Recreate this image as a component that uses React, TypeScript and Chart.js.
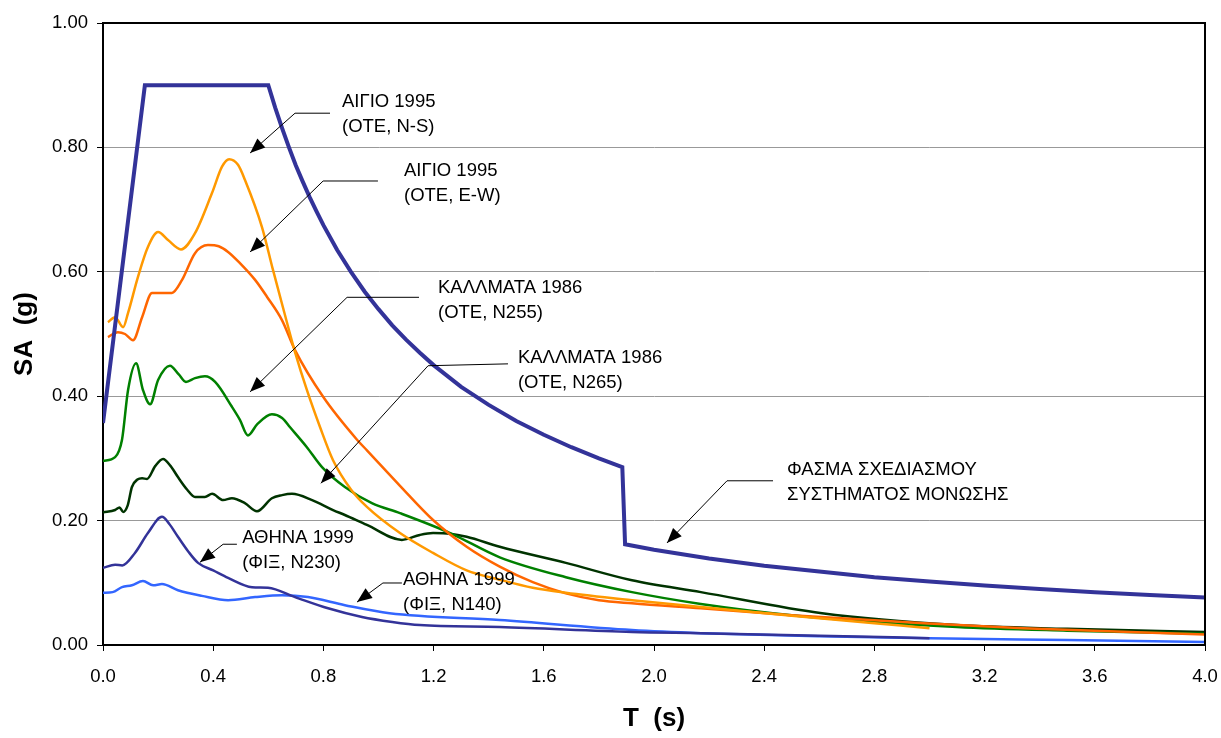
import React, { useEffect, useRef } from "react";
import { Chart, registerables } from "chart.js";

Chart.register(...registerables);

const FONT = "'Liberation Sans', Arial, Helvetica, sans-serif";

// ---- Data (T in s, SA in g) ----
const designPoints: number[][] = [
  [0, 0.357], [0.152, 0.9], [0.6, 0.9], [0.625, 0.864], [0.65, 0.831], [0.675, 0.8], [0.7, 0.771],
  [0.725, 0.745], [0.75, 0.72], [0.775, 0.697], [0.8, 0.675], [0.85, 0.635], [0.9, 0.6],
  [0.95, 0.568], [1.0, 0.54], [1.05, 0.514], [1.1, 0.491], [1.15, 0.47], [1.2, 0.45],
  [1.3, 0.415], [1.4, 0.386], [1.5, 0.36], [1.6, 0.338], [1.7, 0.318], [1.8, 0.3],
  [1.885, 0.286], [1.895, 0.162], [2.0, 0.153], [2.2, 0.139], [2.4, 0.1275], [2.6, 0.118],
  [2.8, 0.109], [3.0, 0.102], [3.2, 0.0956], [3.4, 0.09], [3.6, 0.085], [3.8, 0.0805], [4.0, 0.0765],
];

const aigioNSPoints: number[][] = [
  [0.018, 0.519], [0.044, 0.527], [0.073, 0.511], [0.091, 0.534], [0.127, 0.592], [0.163, 0.64],
  [0.2, 0.664], [0.236, 0.651], [0.283, 0.636], [0.334, 0.662], [0.396, 0.727], [0.432, 0.769],
  [0.458, 0.781], [0.49, 0.772], [0.515, 0.748], [0.577, 0.672], [0.617, 0.603], [0.653, 0.543],
  [0.697, 0.471], [0.74, 0.41], [0.788, 0.35], [0.835, 0.297], [0.9, 0.25], [0.958, 0.222],
  [1.078, 0.18], [1.198, 0.148], [1.32, 0.12], [1.44, 0.105], [1.56, 0.092], [1.68, 0.084],
  [1.92, 0.072], [2.17, 0.061], [2.5, 0.047], [2.8, 0.035], [3.0, 0.027],
];

const aigioEWPoints: number[][] = [
  [0.018, 0.495], [0.054, 0.503], [0.08, 0.5], [0.109, 0.49], [0.142, 0.527], [0.178, 0.566],
  [0.25, 0.566], [0.287, 0.587], [0.334, 0.63], [0.381, 0.643], [0.42, 0.641], [0.454, 0.632],
  [0.497, 0.614], [0.552, 0.587], [0.595, 0.56], [0.65, 0.522], [0.697, 0.474], [0.799, 0.399],
  [0.922, 0.33], [0.958, 0.313], [1.078, 0.256], [1.198, 0.201], [1.32, 0.158], [1.44, 0.126],
  [1.56, 0.101], [1.68, 0.083], [1.8, 0.072], [1.92, 0.067], [2.17, 0.059], [2.5, 0.048],
  [2.98, 0.035], [3.34, 0.027], [4.0, 0.017],
];

const kalamataN255Points: number[][] = [
  [0, 0.296], [0.044, 0.302], [0.069, 0.33], [0.091, 0.41], [0.12, 0.453], [0.145, 0.41],
  [0.171, 0.387], [0.2, 0.426], [0.243, 0.449], [0.275, 0.435], [0.301, 0.423], [0.334, 0.429],
  [0.37, 0.432], [0.407, 0.423], [0.468, 0.383], [0.497, 0.362], [0.526, 0.337], [0.56, 0.355],
  [0.613, 0.371], [0.65, 0.365], [0.679, 0.35], [0.74, 0.318], [0.795, 0.286], [0.878, 0.254],
  [0.976, 0.228], [1.078, 0.212], [1.26, 0.18], [1.44, 0.141], [1.68, 0.109], [1.92, 0.085],
  [2.17, 0.066], [2.5, 0.048], [3.1, 0.029], [3.5, 0.023], [4.0, 0.018],
];

const kalamataN265Points: number[][] = [
  [0, 0.213], [0.044, 0.217], [0.06, 0.221], [0.073, 0.214], [0.09, 0.225], [0.105, 0.254],
  [0.125, 0.266], [0.142, 0.268], [0.16, 0.267], [0.19, 0.288], [0.218, 0.299], [0.245, 0.288],
  [0.272, 0.27], [0.305, 0.25], [0.334, 0.238], [0.37, 0.238], [0.396, 0.243], [0.436, 0.233],
  [0.468, 0.236], [0.515, 0.228], [0.559, 0.215], [0.613, 0.236], [0.65, 0.241], [0.686, 0.243],
  [0.759, 0.233], [0.835, 0.217], [0.878, 0.209], [0.958, 0.193], [1.085, 0.169], [1.15, 0.177],
  [1.198, 0.18], [1.26, 0.179], [1.32, 0.174], [1.44, 0.158], [1.68, 0.132], [1.92, 0.104],
  [2.17, 0.085], [2.61, 0.051], [3.1, 0.032], [3.5, 0.026], [4.0, 0.021],
];

const athensN230Points: number[][] = [
  [0, 0.124], [0.044, 0.129], [0.07, 0.128], [0.116, 0.148], [0.163, 0.18], [0.214, 0.206],
  [0.24, 0.195], [0.272, 0.174], [0.31, 0.15], [0.345, 0.132], [0.4, 0.12], [0.454, 0.108],
  [0.541, 0.093], [0.599, 0.092], [0.697, 0.077], [0.817, 0.059], [0.94, 0.045], [1.05, 0.037],
  [1.15, 0.032], [1.44, 0.029], [1.92, 0.021], [2.17, 0.019], [2.6, 0.015], [3.0, 0.011],
];

const athensN140Points: number[][] = [
  [0, 0.084], [0.035, 0.085], [0.069, 0.093], [0.105, 0.096], [0.145, 0.103], [0.182, 0.096],
  [0.214, 0.098], [0.272, 0.088], [0.359, 0.079], [0.454, 0.072], [0.552, 0.077], [0.65, 0.08],
  [0.744, 0.077], [0.878, 0.064], [1.04, 0.051], [1.44, 0.04], [1.92, 0.024], [2.17, 0.019],
  [2.6, 0.014], [3.0, 0.011], [3.5, 0.008], [4.0, 0.005],
];

// Annotation labels: text lines, anchor (T, SA) of the first line, leader polyline ending at arrow tip
const annotations = [
  { lines: ["ΑΙΓΙΟ 1995", "(ΟΤΕ, N-S)"], at: [0.8675, 0.873], leader: [[0.824, 0.855], [0.697, 0.855], [0.534, 0.791]] },
  { lines: ["ΑΙΓΙΟ 1995", "(ΟΤΕ, E-W)"], at: [1.0926, 0.762], leader: [[0.998, 0.746], [0.799, 0.746], [0.534, 0.632]] },
  { lines: ["ΚΑΛΛΜΑΤΑ 1986", "(ΟΤΕ, N255)"], at: [1.216, 0.574], leader: [[1.147, 0.559], [0.886, 0.559], [0.534, 0.407]] },
  { lines: ["ΚΑΛΛΜΑΤΑ 1986", "(ΟΤΕ, N265)"], at: [1.506, 0.461], leader: [[1.47, 0.452], [1.18, 0.449], [0.791, 0.26]] },
  { lines: ["ΑΘΗΝΑ 1999", "(ΦΙΞ, N230)"], at: [0.505, 0.172], leader: [[0.486, 0.162], [0.436, 0.162], [0.352, 0.133]] },
  { lines: ["ΑΘΗΝΑ 1999", "(ΦΙΞ, N140)"], at: [1.089, 0.105], leader: [[1.085, 0.0997], [1.016, 0.0997], [0.922, 0.069]] },
  { lines: ["ΦΑΣΜΑ ΣΧΕΔΙΑΣΜΟΥ", "ΣΥΣΤΗΜΑΤΟΣ ΜΟΝΩΣΗΣ"], at: [2.483, 0.281], leader: [[2.432, 0.264], [2.265, 0.264], [2.047, 0.164]] },
];

const toXY = (pts: number[][]) => pts.map(([x, y]) => ({ x, y }));

const annotationPlugin = {
  id: "annotations",
  afterDatasetsDraw(chart: any) {
    const { ctx, scales } = chart;
    const xs = scales.x;
    const ys = scales.y;
    ctx.save();
    ctx.strokeStyle = "#000";
    ctx.fillStyle = "#000";
    ctx.lineWidth = 1;
    for (const a of annotations) {
      const pts = a.leader.map(([t, s]) => [xs.getPixelForValue(t), ys.getPixelForValue(s)]);
      ctx.beginPath();
      ctx.moveTo(pts[0][0], pts[0][1]);
      for (let i = 1; i < pts.length; i++) ctx.lineTo(pts[i][0], pts[i][1]);
      ctx.stroke();
      const [x1, y1] = pts[pts.length - 2];
      const [x2, y2] = pts[pts.length - 1];
      const ang = Math.atan2(y2 - y1, x2 - x1);
      const len = 15;
      const hw = 6;
      const bx = x2 - len * Math.cos(ang);
      const by = y2 - len * Math.sin(ang);
      ctx.beginPath();
      ctx.moveTo(x2, y2);
      ctx.lineTo(bx + hw * Math.sin(ang), by - hw * Math.cos(ang));
      ctx.lineTo(bx - hw * Math.sin(ang), by + hw * Math.cos(ang));
      ctx.closePath();
      ctx.fill();
      ctx.font = `18.5px ${FONT}`;
      ctx.textAlign = "left";
      ctx.textBaseline = "middle";
      const tx = xs.getPixelForValue(a.at[0]);
      const ty = ys.getPixelForValue(a.at[1]);
      a.lines.forEach((line, i) => ctx.fillText(line, tx, ty + i * 25));
    }
    ctx.restore();
  },
};

const framePlugin = {
  id: "frame",
  afterDraw(chart: any) {
    const { ctx, chartArea } = chart;
    ctx.save();
    ctx.strokeStyle = "#000";
    ctx.lineWidth = 2;
    ctx.beginPath();
    ctx.moveTo(chartArea.left, chartArea.top);
    ctx.lineTo(chartArea.right, chartArea.top);
    ctx.lineTo(chartArea.right, chartArea.bottom);
    ctx.stroke();
    ctx.restore();
  },
};

export default function App() {
  const ref = useRef<HTMLCanvasElement | null>(null);
  useEffect(() => {
    document.body.style.margin = "0";
    if (!ref.current) return;
    const smooth = { tension: 0.4, cubicInterpolationMode: "monotone" as const, pointRadius: 0, borderWidth: 2.5, fill: false };
    const chart = new Chart(ref.current, {
      type: "line",
      data: {
        datasets: [
          { label: "ΦΑΣΜΑ ΣΧΕΔΙΑΣΜΟΥ", data: toXY(designPoints), borderColor: "#333399", borderWidth: 4, pointRadius: 0, tension: 0, fill: false },
          { label: "ΑΙΓΙΟ 1995 N-S", data: toXY(aigioNSPoints), borderColor: "#FF9900", ...smooth },
          { label: "ΑΙΓΙΟ 1995 E-W", data: toXY(aigioEWPoints), borderColor: "#FF6600", ...smooth },
          { label: "ΑΘΗΝΑ 1999 N230", data: toXY(athensN230Points), borderColor: "#333399", ...smooth },
          { label: "ΑΘΗΝΑ 1999 N140", data: toXY(athensN140Points), borderColor: "#3366FF", ...smooth },
          { label: "ΚΑΛΑΜΑΤΑ 1986 N255", data: toXY(kalamataN255Points), borderColor: "#008000", ...smooth },
          { label: "ΚΑΛΑΜΑΤΑ 1986 N265", data: toXY(kalamataN265Points), borderColor: "#003300", ...smooth },
        ],
      },
      options: {
        animation: false,
        responsive: false,
        devicePixelRatio: 1,
        layout: { padding: { top: 23, right: 16, left: 0, bottom: 0 } },
        plugins: { legend: { display: false }, tooltip: { enabled: false } },
        scales: {
          x: {
            type: "linear",
            min: 0,
            max: 4,
            afterFit: (s: any) => { s.height = 93; s.paddingLeft = 0; s.paddingRight = 0; },
            ticks: {
              stepSize: 0.4,
              color: "#000",
              padding: 15,
              font: { family: FONT, size: 18.5 },
              callback: (v: any) => Number(v).toFixed(1),
            },
            grid: { drawOnChartArea: false, drawTicks: true, tickLength: 6, tickColor: "#000", tickWidth: 1 },
            border: { display: true, color: "#000", width: 2 },
            title: { display: true, text: "T  (s)", color: "#000", font: { family: FONT, size: 26, weight: "bold" }, padding: { top: 0, bottom: 4 } },
          },
          y: {
            type: "linear",
            min: 0,
            max: 1,
            afterFit: (s: any) => { s.width = 103; s.paddingTop = 0; s.paddingBottom = 0; },
            ticks: {
              stepSize: 0.2,
              color: "#000",
              padding: 9,
              font: { family: FONT, size: 18.5 },
              callback: (v: any) => Number(v).toFixed(2),
            },
            grid: { color: "#999999", lineWidth: 1, drawTicks: true, tickLength: 6, tickColor: "#000", tickWidth: 1 },
            border: { display: true, color: "#000", width: 2 },
            title: { display: true, text: "SA  (g)", color: "#000", font: { family: FONT, size: 26, weight: "bold" }, padding: { top: 9, bottom: 0 } },
          },
        },
      },
      plugins: [annotationPlugin, framePlugin],
    } as any);
    return () => chart.destroy();
  }, []);
  return (
    <div style={{ width: 1221, height: 738 }}>
      <canvas ref={ref} width={1221} height={738} style={{ display: "block" }} />
    </div>
  );
}
